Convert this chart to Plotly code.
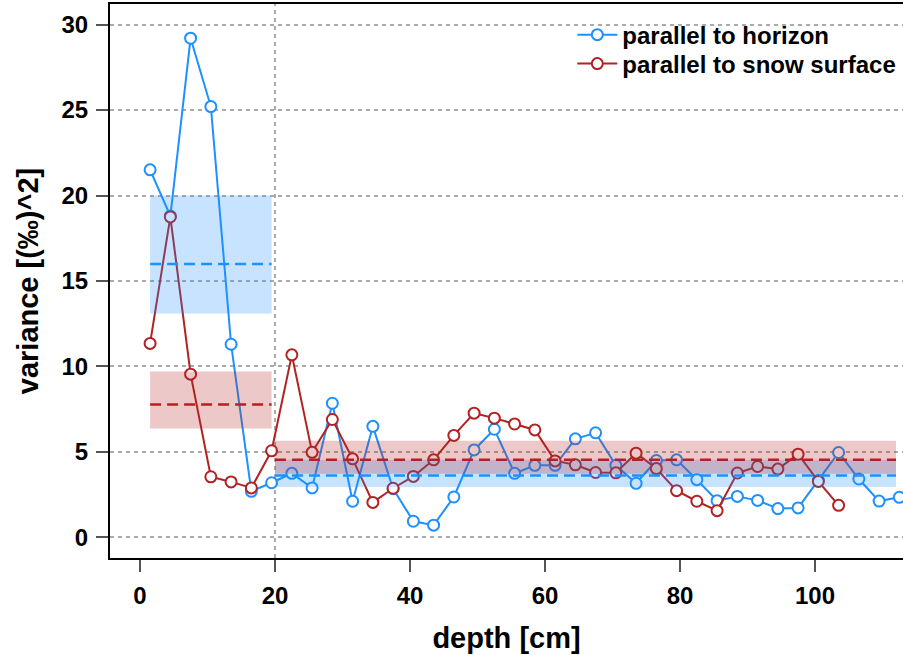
import plotly.graph_objects as go

depth_h = [1.5, 4.5, 7.5, 10.5, 13.5, 16.5, 19.5, 22.5, 25.5, 28.5, 31.5, 34.5, 37.5,
           40.5, 43.5, 46.5, 49.5, 52.5, 55.5, 58.5, 61.5, 64.5, 67.5, 70.5, 73.5,
           76.5, 79.5, 82.5, 85.5, 88.5, 91.5, 94.5, 97.5, 100.5, 103.5, 106.5, 109.5, 112.5]
var_h = [21.5, 18.8, 29.2, 25.2, 11.3, 2.7, 3.2, 3.75, 2.9, 7.85, 2.12, 6.5, 2.85,
         0.95, 0.72, 2.37, 5.12, 6.33, 3.75, 4.22, 4.22, 5.77, 6.12, 4.22, 3.17,
         4.5, 4.54, 3.38, 2.15, 2.4, 2.17, 1.69, 1.73, 3.34, 4.97, 3.42, 2.13, 2.35]

depth_s = [1.5, 4.5, 7.5, 10.5, 13.5, 16.5, 19.5, 22.5, 25.5, 28.5, 31.5, 34.5, 37.5,
           40.5, 43.5, 46.5, 49.5, 52.5, 55.5, 58.5, 61.5, 64.5, 67.5, 70.5, 73.5,
           76.5, 79.5, 82.5, 85.5, 88.5, 91.5, 94.5, 97.5, 100.5, 103.5]
var_s = [11.35, 18.75, 9.55, 3.55, 3.25, 2.9, 5.07, 10.68, 4.98, 6.9, 4.6, 2.05, 2.88,
         3.57, 4.54, 5.97, 7.27, 6.98, 6.64, 6.29, 4.48, 4.25, 3.8, 3.78, 4.93,
         4.03, 2.74, 2.12, 1.57, 3.77, 4.15, 4.0, 4.87, 3.28, 1.88]

# summary bands: [start, end] depth, lower, upper, mean
band_x0 = [1.5, 20.0]
band_x1 = [19.5, 112.0]
band_h_lo = [13.1, 2.95]
band_h_hi = [20.0, 4.54]
band_h_mean = [16.0, 3.62]
band_s_lo = [6.37, 3.73]
band_s_hi = [9.71, 5.65]
band_s_mean = [7.77, 4.54]

split_depth = 20
y_ticks = [0, 5, 10, 15, 20, 25, 30]
x_ticks = [0, 20, 40, 60, 80, 100]

BLUE = "#1E90FF"
RED = "#B22222"
FONT = "Liberation Sans, Arial, sans-serif"

fig = go.Figure()
fig.add_trace(go.Scatter(
    x=depth_h, y=var_h, mode="lines+markers", name="parallel to horizon",
    line=dict(color=BLUE, width=2), legend="legend",
    marker=dict(symbol="circle", size=11, color="white", line=dict(color=BLUE, width=2)),
))
fig.add_trace(go.Scatter(
    x=depth_s, y=var_s, mode="lines+markers", name="parallel to snow surface",
    line=dict(color=RED, width=2), legend="legend2",
    marker=dict(symbol="circle", size=11, color="white", line=dict(color=RED, width=2)),
))

shapes = []
# vertical dotted reference line
shapes.append(dict(type="line", xref="x", yref="paper", x0=split_depth, x1=split_depth,
                   y0=0, y1=1, layer="below",
                   line=dict(color="#AAAAAA", width=2, dash="4px,4px")))
for i in range(len(band_x0)):
    shapes.append(dict(type="rect", xref="x", yref="y", x0=band_x0[i], x1=band_x1[i],
                       y0=band_h_lo[i], y1=band_h_hi[i], layer="above",
                       fillcolor="rgba(30,144,255,0.25)", line=dict(width=0)))
    shapes.append(dict(type="rect", xref="x", yref="y", x0=band_x0[i], x1=band_x1[i],
                       y0=band_s_lo[i], y1=band_s_hi[i], layer="above",
                       fillcolor="rgba(178,34,34,0.25)", line=dict(width=0)))
for i in range(len(band_x0)):
    shapes.append(dict(type="line", xref="x", yref="y", x0=band_x0[i], x1=band_x1[i],
                       y0=band_h_mean[i], y1=band_h_mean[i], layer="above",
                       line=dict(color=BLUE, width=2.5, dash="11px,6px")))
    shapes.append(dict(type="line", xref="x", yref="y", x0=band_x0[i], x1=band_x1[i],
                       y0=band_s_mean[i], y1=band_s_mean[i], layer="above",
                       line=dict(color=RED, width=2.5, dash="11px,6px")))

legend_style = dict(xanchor="left", yanchor="top",
                    bgcolor="rgba(0,0,0,0)", borderwidth=0,
                    font=dict(family=FONT, size=24, color="black", weight="bold"),
                    itemwidth=40)

fig.update_layout(
    width=903, height=655,
    margin=dict(l=110, r=0, t=4, b=97),
    paper_bgcolor="white", plot_bgcolor="white",
    font=dict(family=FONT, color="black", size=24),
    shapes=shapes,
    showlegend=True,
    legend=dict(x=0.583, y=0.9846, **legend_style),
    legend2=dict(x=0.583, y=0.9323, **legend_style),
    xaxis=dict(range=[-4.44, 113.04], tickvals=x_ticks, showgrid=False, zeroline=False,
               showline=True, linecolor="black", linewidth=2, mirror=True,
               ticks="outside", ticklen=12, tickwidth=1.5, tickcolor="#555555",
               ticklabelstandoff=3,
               tickfont=dict(family=FONT, size=24, weight="bold"),
               title=dict(text="depth [cm]", standoff=20,
                          font=dict(family=FONT, size=29, weight="bold"))),
    yaxis=dict(range=[-1.2, 31.2], tickvals=y_ticks, showgrid=True,
               gridcolor="#AAAAAA", gridwidth=2, griddash="4px,4px", zeroline=False,
               showline=True, linecolor="black", linewidth=2, mirror=False,
               ticks="outside", ticklen=12, tickwidth=1.5, tickcolor="#555555",
               ticklabelstandoff=3,
               tickfont=dict(family=FONT, size=24, weight="bold"),
               title=dict(text="variance [(‰)^2]", standoff=14,
                          font=dict(family=FONT, size=29, weight="bold"))),
)

fig.write_html("out.html")
